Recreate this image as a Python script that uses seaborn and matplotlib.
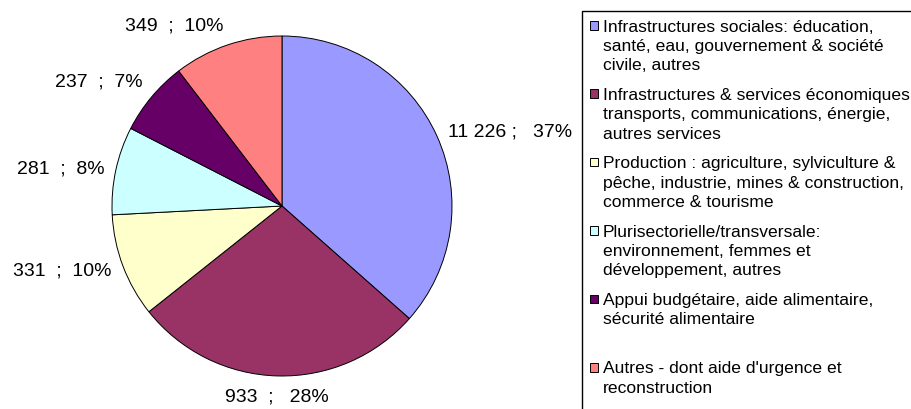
import matplotlib
matplotlib.use("Agg")
import matplotlib.pyplot as plt
from matplotlib.patches import Rectangle
import seaborn as sns

# données
categories = [
    "Infrastructures sociales: éducation,\nsanté, eau, gouvernement & société\ncivile, autres",
    "Infrastructures & services économiques\ntransports, communications, énergie,\nautres services",
    "Production : agriculture, sylviculture &\npêche, industrie, mines & construction,\ncommerce & tourisme",
    "Plurisectorielle/transversale:\nenvironnement, femmes et\ndéveloppement, autres",
    "Appui budgétaire, aide alimentaire,\nsécurité alimentaire",
    "Autres - dont aide d'urgence et\nreconstruction",
]
values = [1226, 933, 331, 281, 237, 349]
value_labels = ["11 226 ;   37%", "933  ;   28%", "331  ;  10%", "281  ;  8%", "237  ;  7%", "349  ;  10%"]
colors = ["#9999FF", "#993366", "#FFFFCC", "#CCFFFF", "#660066", "#FF8080"]

W, H = 912, 410

sns.set_style("white")
plt.rcParams["font.family"] = ["Liberation Sans", "DejaVu Sans"]

fig = plt.figure(figsize=(W / 100, H / 100), dpi=100)
fig.patch.set_facecolor("white")

# camembert : centre (282, 207), rayon 170 px
cx, cy, r = 282, 207, 170
ax = fig.add_axes([(cx - r) / W, (H - cy - r) / H, 2 * r / W, 2 * r / H])
wedges, texts = ax.pie(
    values,
    labels=value_labels,
    colors=sns.color_palette(colors),
    startangle=90,
    counterclock=False,
    labeldistance=1.07,
    wedgeprops=dict(edgecolor="black", linewidth=0.7),
    textprops=dict(fontsize=14, color="black"),
)
for t in texts:
    x, y = t.get_position()
    if y > 0.5:
        t.set_va("bottom")
    elif y < -0.5:
        t.set_va("top")
    if abs(x) < 0.2:
        t.set_ha("center")
ax.set_xlim(-1, 1)
ax.set_ylim(-1, 1)
ax.set_aspect("equal")
ax.axis("off")

# légende dessinée à la main (cadre coupé à droite et en bas)
def fx(px):
    return px / W

def fy(py):
    return (H - py) / H

box_left, box_top = 582, 12
fig.add_artist(Rectangle((fx(box_left), fy(H + 20)), fx(400), fy(box_top) - fy(H + 20),
                         transform=fig.transFigure, facecolor="white",
                         edgecolor="black", linewidth=1.0, zorder=0))

slot = 68.4
for i, (lab, col) in enumerate(zip(categories, colors)):
    yc = 26 + i * slot
    fig.add_artist(Rectangle((fx(590), fy(yc + 4.5)), fx(8.5), 8.5 / H,
                             transform=fig.transFigure, facecolor=col,
                             edgecolor="black", linewidth=0.7))
    fig.text(fx(603), fy(yc - 6.5), lab, fontsize=12.6, ha="left", va="top",
             linespacing=1.36, color="black")

fig.savefig("out.png", dpi=100, facecolor="white")
